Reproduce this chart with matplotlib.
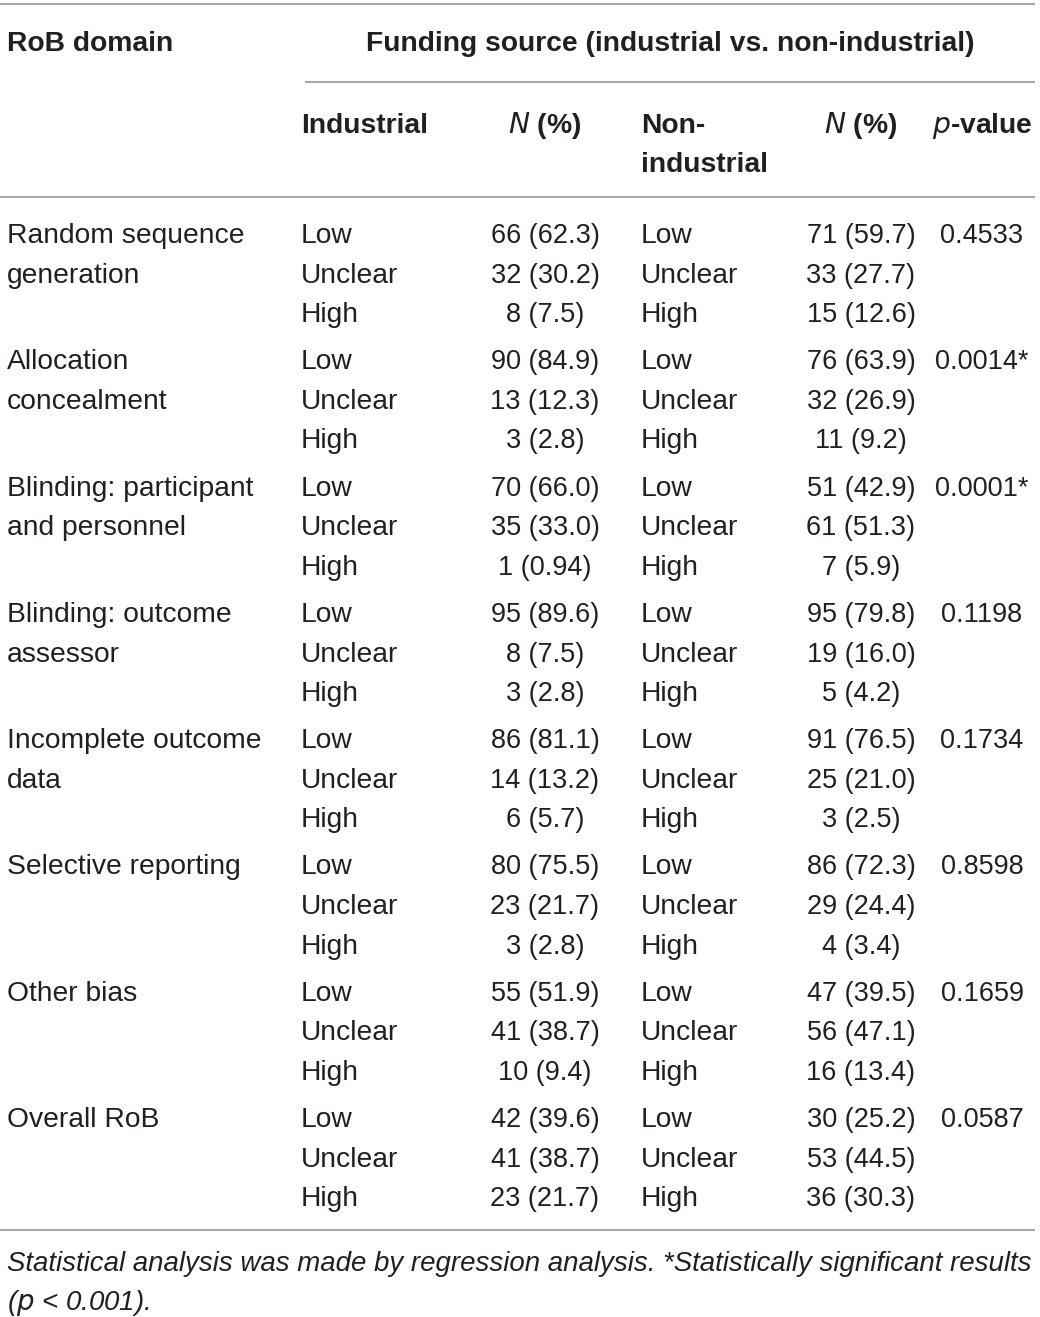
import matplotlib
matplotlib.use("Agg")
from matplotlib import pyplot as plt

# table content
domains = ["Random sequence\ngeneration", "Allocation\nconcealment",
           "Blinding: participant\nand personnel", "Blinding: outcome\nassessor",
           "Incomplete outcome\ndata", "Selective reporting", "Other bias", "Overall RoB"]
levels = ["Low", "Unclear", "High"]
ind_n = [[66, 32, 8], [90, 13, 3], [70, 35, 1], [95, 8, 3],
         [86, 14, 6], [80, 23, 3], [55, 41, 10], [42, 41, 23]]
ind_pct = [["62.3", "30.2", "7.5"], ["84.9", "12.3", "2.8"], ["66.0", "33.0", "0.94"],
           ["89.6", "7.5", "2.8"], ["81.1", "13.2", "5.7"], ["75.5", "21.7", "2.8"],
           ["51.9", "38.7", "9.4"], ["39.6", "38.7", "21.7"]]
non_n = [[71, 33, 15], [76, 32, 11], [51, 61, 7], [95, 19, 5],
         [91, 25, 3], [86, 29, 4], [47, 56, 16], [30, 53, 36]]
non_pct = [["59.7", "27.7", "12.6"], ["63.9", "26.9", "9.2"], ["42.9", "51.3", "5.9"],
           ["79.8", "16.0", "4.2"], ["76.5", "21.0", "2.5"], ["72.3", "24.4", "3.4"],
           ["39.5", "47.1", "13.4"], ["25.2", "44.5", "30.3"]]
p_values = ["0.4533", "0.0014*", "0.0001*", "0.1198", "0.1734", "0.8598", "0.1659", "0.0587"]
footnote = ["Statistical analysis was made by regression analysis. *Statistically significant results",
            "($\\it{p}$ < 0.001)."]

W, H = 1040, 1317
TXT = "#231f20"
RULE = "#a6a6a6"
FS = 20.3      # words
FS_NUM = 19.5  # figures
plt.rcParams["font.family"] = ["Liberation Sans", "DejaVu Sans"]

fig = plt.figure(figsize=(W / 100, H / 100), dpi=100)
ax = fig.add_axes([0, 0, 1, 1])
ax.set_xlim(0, W)
ax.set_ylim(H, 0)
ax.axis("off")

# column anchors
x_dom, x_lev1, x_n1, x_lev2, x_n2, x_p = 7, 301, 545, 641, 861, 982


def txt(x, y, s, ha="left", fs=FS, **kw):
    ax.text(x, y, s, ha=ha, va="baseline", fontsize=fs, color=TXT, **kw)


# rules
ax.hlines(4, 0, 1035, color=RULE, lw=1.4)
ax.hlines(82, 305, 1035, color=RULE, lw=1.4)
ax.hlines(197, 0, 1035, color=RULE, lw=1.4)
ax.hlines(1230, 0, 1035, color=RULE, lw=1.4)

# header
txt(x_dom, 51, "RoB domain", weight="bold")
txt(670, 51, "Funding source (industrial vs. non-industrial)", ha="center", weight="bold")
txt(x_lev1, 133, "Industrial", weight="bold")
txt(x_n1, 133, "$\\bf{\\it{N}}$ (%)", ha="center", weight="bold")
txt(x_lev2, 133, "Non-", weight="bold")
txt(x_lev2, 172, "industrial", weight="bold")
txt(x_n2, 133, "$\\bf{\\it{N}}$ (%)", ha="center", weight="bold")
txt(x_p, 133, "$\\bf{\\it{p}}$-value", ha="center", weight="bold")

# body
base0, gstep, rstep = 243, 126.3, 39.6
for g, dom in enumerate(domains):
    yb = base0 + g * gstep
    for k, line in enumerate(dom.split("\n")):
        txt(x_dom, yb + k * rstep, line)
    for i, lev in enumerate(levels):
        y = yb + i * rstep
        txt(x_lev1, y, lev)
        txt(x_n1, y, f"{ind_n[g][i]} ({ind_pct[g][i]})", ha="center", fs=FS_NUM)
        txt(x_lev2, y, lev)
        txt(x_n2, y, f"{non_n[g][i]} ({non_pct[g][i]})", ha="center", fs=FS_NUM)
    txt(x_p, yb, p_values[g], ha="center", fs=FS_NUM)

# footnote
txt(x_dom, 1271, footnote[0], style="italic", fs=19.9)
txt(x_dom, 1310, footnote[1], style="italic", fs=19.9)

fig.savefig("out.png", dpi=100)
